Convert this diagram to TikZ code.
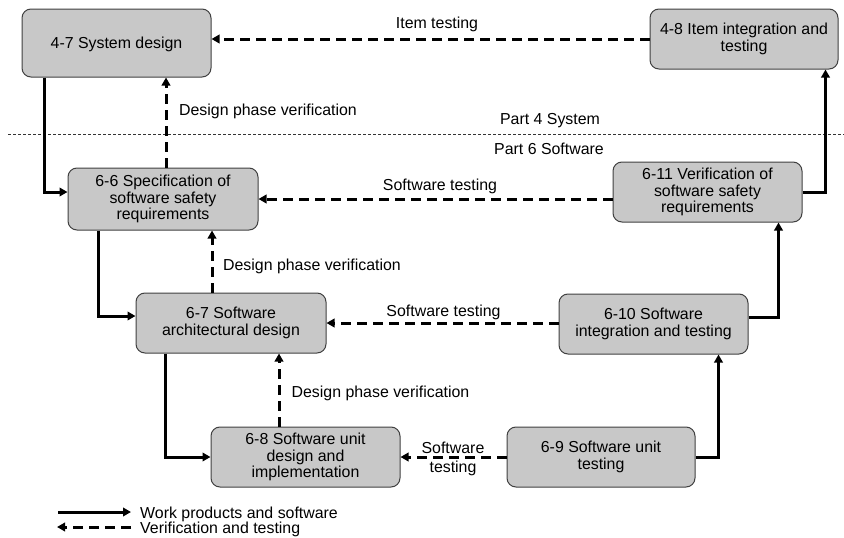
\documentclass[tikz,border=0pt]{standalone}
\usepackage{fontspec}
\setmainfont{Liberation Sans}
\usetikzlibrary{arrows.meta}
\definecolor{boxgray}{RGB}{200,200,200}
\definecolor{boxline}{RGB}{64,64,64}
\begin{document}
\begin{tikzpicture}[x=1pt,y=-1pt,
  box/.style={draw=boxline, line width=1pt, fill=boxgray, rounded corners=9pt,
    inner sep=0pt, align=center, font=\fontsize{15.9}{16.5}\selectfont},
  work/.style={line width=3pt, -{Triangle[length=8pt,width=8.5pt]}},
  verif/.style={line width=3pt, dash pattern=on 10pt off 6pt, -{Triangle[length=8pt,width=8.5pt]}},
  lbl/.style={inner sep=0pt, align=center, font=\fontsize{15.9}{18.5}\selectfont}]
\useasboundingbox (0,0) rectangle (844,538);
% boxes
\node[box, minimum width=189pt, minimum height=68pt, text depth=0pt] (sd) at (116.5,43) {4-7 System design};
\node[box, minimum width=188pt, minimum height=60pt] (iit) at (744,39) {4-8 Item integration and\\testing};
\node[box, minimum width=190pt, minimum height=62pt] (ssr) at (163,199) {6-6 Specification of\\software safety\\requirements};
\node[box, minimum width=189pt, minimum height=60pt] (vsr) at (707.5,192) {6-11 Verification of\\software safety\\requirements};
\node[box, minimum width=190pt, minimum height=60pt] (sad) at (231,323) {6-7 Software\\architectural design};
\node[box, minimum width=189pt, minimum height=60pt] (sit) at (653.5,324) {6-10 Software\\integration and testing};
\node[box, minimum width=189pt, minimum height=60pt] (ud) at (305.5,457) {6-8 Software unit\\design and\\implementation};
\node[box, minimum width=188pt, minimum height=60pt] (ut) at (601,457) {6-9 Software unit\\testing};
% separator
\coordinate (sepa) at (8,134);
\coordinate (sepb) at (844,134);
\draw[line width=0.8pt, dash pattern=on 3pt off 2pt, black!80] (sepa) -- (sepb);
\node[lbl] (p4) at (550,121) {Part 4 System};
\node[lbl] (p6) at (549,149) {Part 6 Software};
% work products
\draw[work] ([xshift=23pt]sd.south west) |- ([yshift=7pt]ssr.west);
\draw[work] ([xshift=31pt]ssr.south west) |- ([yshift=7pt]sad.west);
\draw[work] ([xshift=30pt]sad.south west) |- (ud.west);
\draw[work] (ut.east) -| ([xshift=-30pt]sit.south east);
\draw[work] ([yshift=7pt]sit.east) -| ([xshift=-24pt]vsr.south east);
\draw[work] (vsr.east) -| ([xshift=-13pt]iit.south east);
% verification
\coordinate (v1) at (166,0);
\coordinate (v2) at (212,0);
\coordinate (v3) at (279,0);
\draw[verif] (iit.west) -- (sd.east |- iit.west);
\draw[verif] (ssr.north -| v1) -- (sd.south -| v1);
\draw[verif] (vsr.west |- ssr.east) -- (ssr.east);
\draw[verif] (sad.north -| v2) -- (ssr.south -| v2);
\draw[verif] (sit.west |- sad.east) -- (sad.east);
\draw[verif] (ud.north -| v3) -- (sad.south -| v3);
\draw[verif] (ut.west) -- (ud.east);
% labels
\node[lbl] (l1) at (437,24) {Item testing};
\node[lbl] (l2) at (268,111) {Design phase verification};
\node[lbl] (l3) at (440,186) {Software testing};
\node[lbl] (l4) at (312,266) {Design phase verification};
\node[lbl] (l5) at (443.5,312) {Software testing};
\node[lbl] (l6) at (380.5,393) {Design phase verification};
\node[lbl] (l7) at (453,459) {Software\\testing};
% legend
\coordinate (la) at (58,512);
\coordinate (lb) at (131,512);
\coordinate (lc) at (131,527);
\coordinate (ld) at (57,527);
\draw[work] (la) -- (lb);
\draw[verif] (lc) -- (ld);
\node[lbl, anchor=west] (lt1) at (140,514) {Work products and software};
\node[lbl, anchor=west] (lt2) at (140,529) {Verification and testing};
\end{tikzpicture}
\end{document}
